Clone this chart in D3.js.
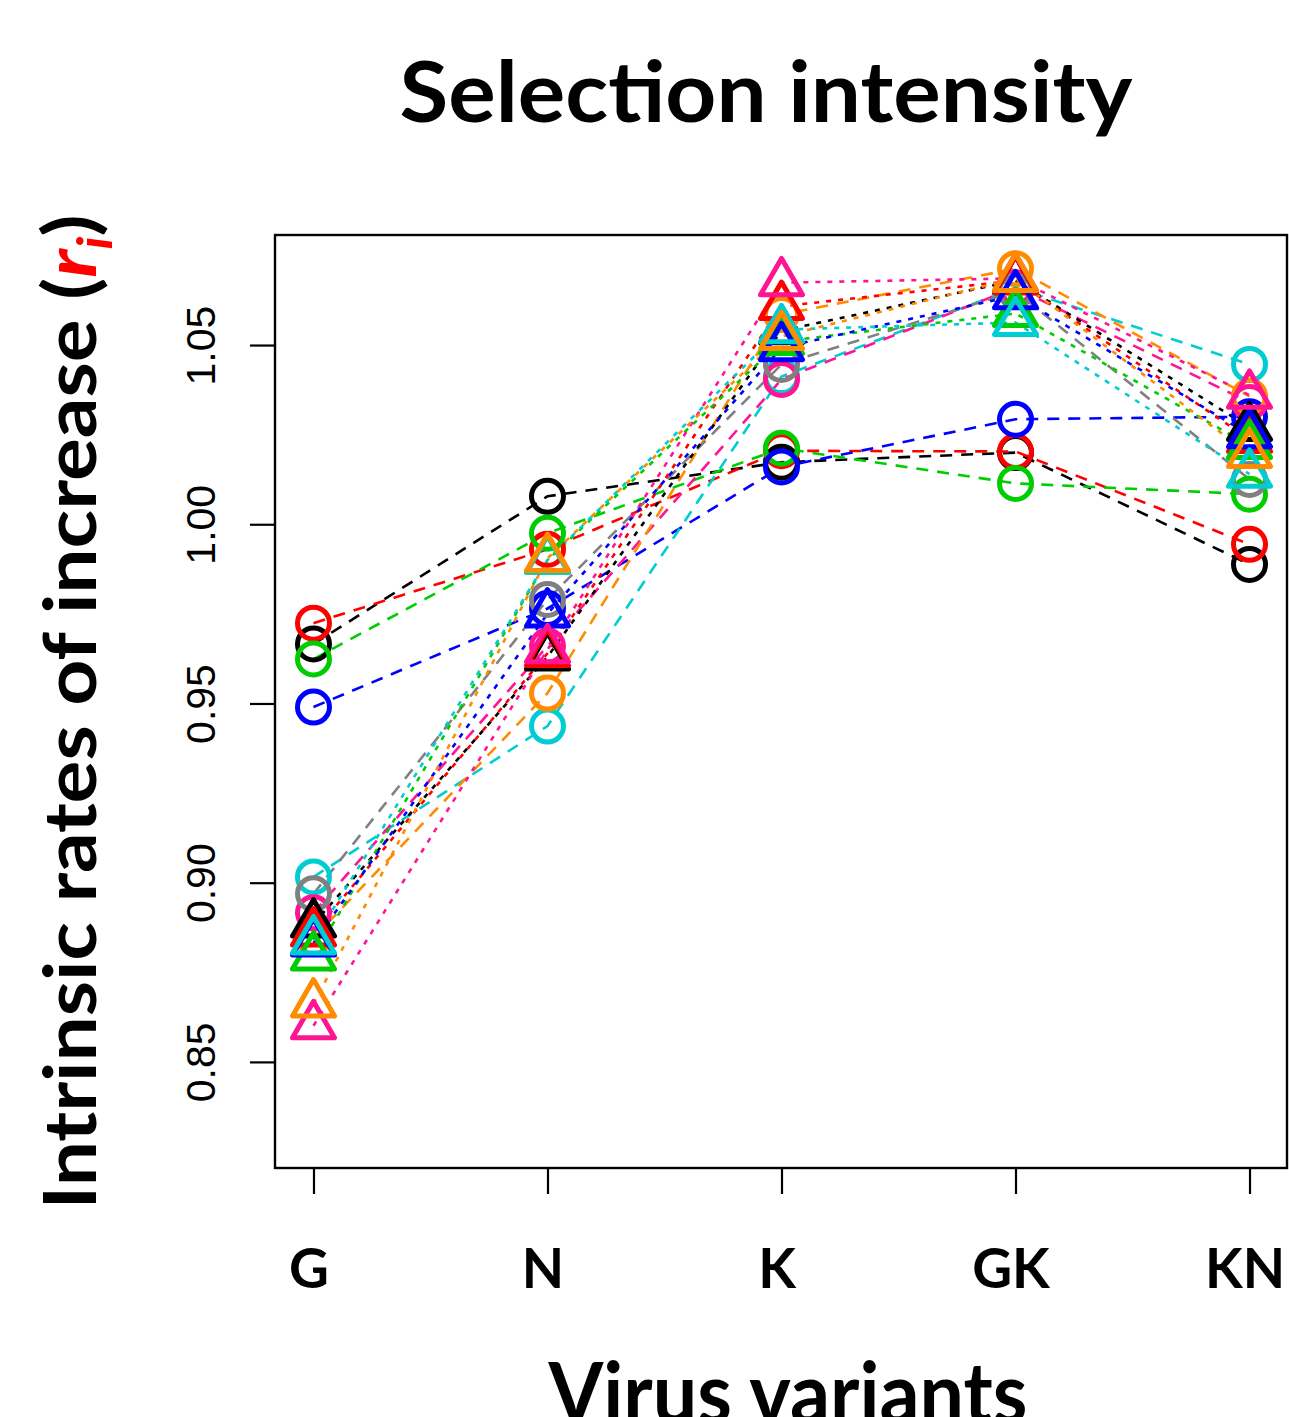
<!DOCTYPE html>
<html>
<head>
<meta charset="utf-8">
<script src="https://cdn.jsdelivr.net/npm/d3@7"></script>
<style>
	body { margin: 0; background: white; }
	svg { display: block; }
</style>
</head>
<body>
<svg id="chart" width="1289" height="1417"></svg>
<script>

// virus variants on the x axis
const variants = ["G", "N", "K", "GK", "KN"];
const yTicks = [0.85, 0.90, 0.95, 1.00, 1.05];

// circles, dashed lines
const circBlack  = [0.9666, 1.0078, 1.0173, 1.0200, 0.9888];
const circRed    = [0.9724, 0.9930, 1.0205, 1.0203, 0.9944];
const circGreen  = [0.9624, 0.9975, 1.0212, 1.0114, 1.0084];
const circBlue   = [0.9490, 0.9765, 1.0160, 1.0293, 1.0300];
const circCyan   = [0.9016, 0.9437, 1.0412, 1.0660, 1.0446];
const circPink   = [0.8916, 0.9660, 1.0404, 1.0660, 1.0340];
const circOrange = [0.8846, 0.9529, 1.0585, 1.0713, 1.0357];
const circGray   = [0.8969, 0.9790, 1.0446, 1.0650, 1.0125];

// triangles, dotted lines
const triBlack  = [0.8885, 0.9630, 1.0540, 1.0680, 1.0270];
const triRed    = [0.8860, 0.9640, 1.0608, 1.0680, 1.0237];
const triGreen  = [0.8793, 0.9900, 1.0510, 1.0588, 1.0220];
const triBlue   = [0.8832, 0.9750, 1.0493, 1.0638, 1.0250];
const triCyan   = [0.8838, 0.9900, 1.0543, 1.0563, 1.0140];
const triPink   = [0.8601, 0.9650, 1.0674, 1.0686, 1.0360];
const triOrange = [0.8662, 0.9905, 1.0524, 1.0686, 1.0195];

const col = {
	black: "#000000", red: "#ff0000", green: "#00cd00", blue: "#0000ff",
	cyan: "#00cdd2", pink: "#ff1493", orange: "#ff8c00", gray: "#808080"
};

const circleSeries = [
	[col.black, circBlack], [col.red, circRed], [col.green, circGreen], [col.blue, circBlue],
	[col.cyan, circCyan], [col.pink, circPink], [col.orange, circOrange], [col.gray, circGray]
];
const triangleSeries = [
	[col.black, triBlack], [col.red, triRed], [col.green, triGreen], [col.blue, triBlue],
	[col.cyan, triCyan], [col.pink, triPink], [col.orange, triOrange]
];

const svg = d3.select("#chart");
const box = {left: 275, right: 1288, top: 235, bottom: 1168};

const x = d3.scalePoint()
	.domain(variants)
	.range([box.left, box.right])
	.padding(0.1645);

const y = d3.scaleLinear()
	.domain([0.8204, 1.0807])
	.range([box.bottom, box.top]);

const line = d3.line()
	.x((d, i) => x(variants[i]))
	.y(d => y(d));

// equilateral triangle, point at its centroid (like R pch 2)
function trianglePath(side) {
	const r = side / Math.sqrt(3);
	return "M0," + (-r) + "L" + (side / 2) + "," + (r / 2) + "L" + (-side / 2) + "," + (r / 2) + "Z";
}

// lines first
const lines = svg.append("g");
lines.selectAll(".cline")
	.data(circleSeries)
	.enter().append("path")
		.attr("d", d => line(d[1]))
		.attr("fill", "none")
		.attr("stroke", d => d[0])
		.attr("stroke-width", 2.6)
		.attr("stroke-dasharray", "12,9");

lines.selectAll(".tline")
	.data(triangleSeries)
	.enter().append("path")
		.attr("d", d => line(d[1]))
		.attr("fill", "none")
		.attr("stroke", d => d[0])
		.attr("stroke-width", 2.6)
		.attr("stroke-dasharray", "5,7");

// then the points
circleSeries.forEach(s => {
	svg.append("g").selectAll("circle")
		.data(s[1])
		.enter().append("circle")
			.attr("cx", (d, i) => x(variants[i]))
			.attr("cy", d => y(d))
			.attr("r", 16)
			.attr("fill", "none")
			.attr("stroke", s[0])
			.attr("stroke-width", 5);
});

triangleSeries.forEach(s => {
	svg.append("g").selectAll("path")
		.data(s[1])
		.enter().append("path")
			.attr("d", trianglePath(42))
			.attr("transform", (d, i) => "translate(" + x(variants[i]) + "," + y(d) + ")")
			.attr("fill", "none")
			.attr("stroke", s[0])
			.attr("stroke-width", 5)
			.attr("stroke-linejoin", "round");
});

// frame
svg.append("rect")
	.attr("x", box.left)
	.attr("y", box.top)
	.attr("width", box.right - box.left - 1)
	.attr("height", box.bottom - box.top)
	.attr("fill", "none")
	.attr("stroke", "black")
	.attr("stroke-width", 2.4);

// y axis
const yAxis = svg.append("g")
	.attr("transform", "translate(" + box.left + ",0)")
	.call(d3.axisLeft(y).tickValues(yTicks).tickSize(25).tickFormat(d3.format(".2f")));
yAxis.select(".domain").remove();
yAxis.selectAll("line").attr("stroke-width", 2.2);
yAxis.selectAll("text")
	.attr("x", 0)
	.attr("dy", 0)
	.attr("transform", "translate(-60,0) rotate(-90)")
	.attr("text-anchor", "middle")
	.style("font-family", "'Liberation Sans', Arial, sans-serif")
	.style("font-size", "41px")
	.attr("fill", "black");

// x axis
const xAxis = svg.append("g")
	.attr("transform", "translate(0," + box.bottom + ")")
	.call(d3.axisBottom(x).tickSize(26));
xAxis.select(".domain").remove();
xAxis.selectAll("line").attr("stroke-width", 2.2);
xAxis.selectAll("text")
	.attr("x", -5)
	.attr("y", 120)
	.attr("dy", 0)
	.style("font-family", "Lato, 'Open Sans', sans-serif")
	.style("font-weight", "bold")
	.style("font-size", "55px")
	.attr("fill", "black");

// titles
svg.append("text")
	.attr("x", 766)
	.attr("y", 122)
	.attr("text-anchor", "middle")
	.attr("textLength", 733)
	.attr("lengthAdjust", "spacingAndGlyphs")
	.style("font-family", "Lato, 'Open Sans', sans-serif")
	.style("font-weight", "bold")
	.style("font-size", "84px")
	.text("Selection intensity");

// cut by the bottom edge, as in the original figure
svg.append("text")
	.attr("x", 788)
	.attr("y", 1423)
	.attr("text-anchor", "middle")
	.attr("textLength", 479)
	.attr("lengthAdjust", "spacingAndGlyphs")
	.style("font-family", "Lato, 'Open Sans', sans-serif")
	.style("font-weight", "bold")
	.style("font-size", "84px")
	.text("Virus variants");

const ylab = svg.append("text")
	.attr("transform", "translate(96,712) rotate(-90)")
	.attr("text-anchor", "middle")
	.attr("textLength", 995)
	.attr("lengthAdjust", "spacingAndGlyphs")
	.style("font-family", "Lato, 'Open Sans', sans-serif")
	.style("font-weight", "bold")
	.style("font-size", "73px");
ylab.append("tspan").text("Intrinsic rates of increase (");
ylab.append("tspan").attr("fill", "#ff0000").style("font-style", "italic").text("r");
ylab.append("tspan").attr("fill", "#ff0000").style("font-style", "italic")
	.style("font-size", "48px").attr("dy", 16).text("i");
ylab.append("tspan").attr("dy", -16).text(")");

</script>
</body>
</html>
